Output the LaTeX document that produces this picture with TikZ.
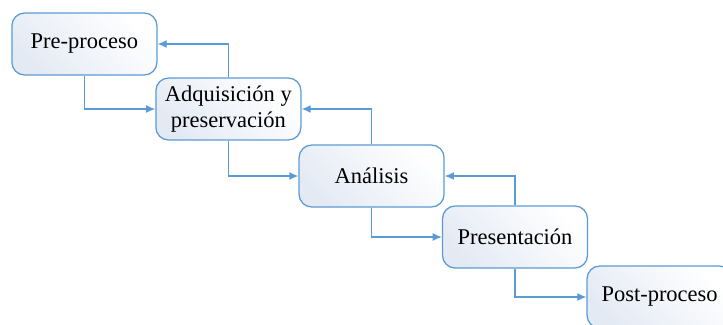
\documentclass[tikz,border=0pt]{standalone}
\usepackage{fontspec}
\setmainfont{Liberation Serif}
\usepackage{xcolor}
\definecolor{boxedge}{HTML}{5B9BD5}
\definecolor{boxshade}{HTML}{E4EAF4}
\definecolor{linkblue}{HTML}{5B9BD5}
\usepackage{tikz}
\usetikzlibrary{arrows.meta, positioning, calc}

\begin{document}
\begin{tikzpicture}[
  font=\fontsize{16}{19}\selectfont,
  every node/.style={align=center},
  stagebox/.style={draw=boxedge, line width=0.9pt, rounded corners=9pt,
    top color=boxshade, bottom color=white, shading angle=135,
    minimum width=3.625cm, minimum height=1.55cm, inner sep=2pt},
  link/.style={linkblue, line width=0.9pt, -{Latex[length=2.3mm, width=2mm]}}
]
  \useasboundingbox (0,0) rectangle (18.075,8.1);
  \clip (0,0) rectangle (18.075,8.1);
  \node[stagebox] (pre)  at (2.11,7.0)    {Pre-proceso};
  \node[stagebox] (adq)  at (5.71,5.375)  {Adquisición y\\preservación};
  \node[stagebox] (ana)  at (9.29,3.70)   {Análisis};
  \node[stagebox] (pres) at (12.875,2.175) {Presentación};
  \node[stagebox] (post) at (16.49,0.675) {Post-proceso};
  % forward steps
  \draw[link] (pre.south) |- (adq.west);
  \draw[link] (adq.south) |- (ana.west);
  \draw[link] (ana.south) |- (pres.west);
  \draw[link] (pres.south) |- (post.west);
  % feedback
  \draw[link] (adq.north) |- (pre.east);
  \draw[link] (ana.north) |- (adq.east);
  \draw[link] (pres.north) |- (ana.east);
\end{tikzpicture}
\end{document}
